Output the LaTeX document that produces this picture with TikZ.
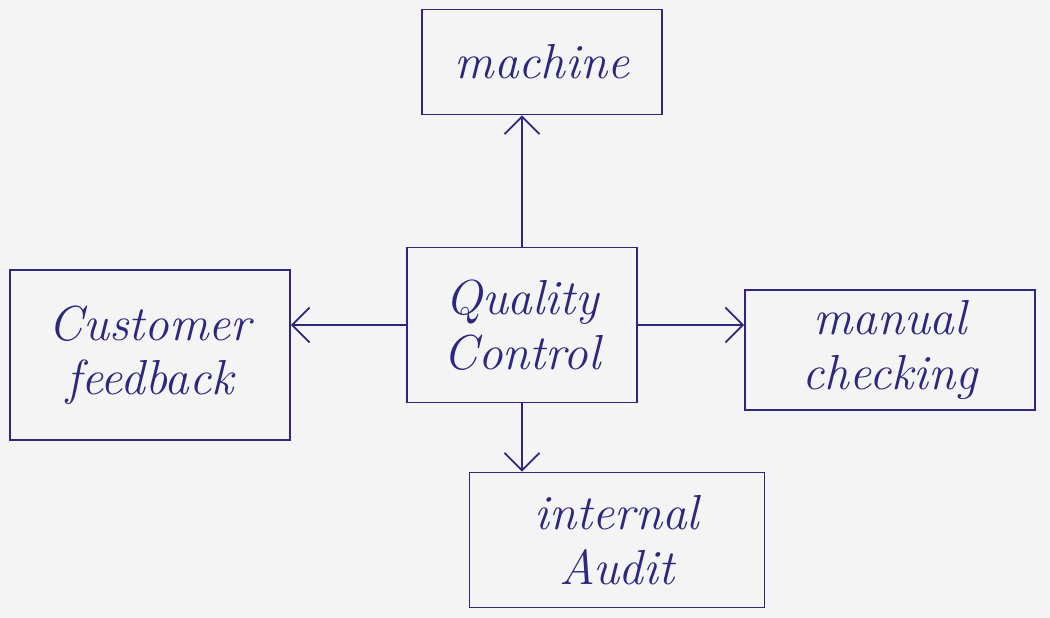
\documentclass[tikz,border=0pt]{standalone}
\usepackage{xcolor}
\usepackage{tikz}
\usetikzlibrary{arrows.meta,calc,positioning}
\definecolor{ink}{RGB}{45,40,125}
\definecolor{paper}{RGB}{244,244,244}

\begin{document}
\begin{tikzpicture}[
  box/.style={draw=ink,line width=1pt,text=ink,align=center,font=\fontsize{28}{31}\selectfont\itshape},
  arr/.style={draw=ink,line width=1pt,-{Straight Barb[length=3.5mm,width=7mm]}}
]
\fill[paper] (0,0) rectangle (21,12.36);
\useasboundingbox (0,0) rectangle (21,12.36);
\node[box,minimum width=4.6cm,minimum height=3.1cm] (qc) at (10.44,5.86) {Quality\\Control};
\node[box,minimum width=4.8cm,minimum height=2.1cm] (machine) at (10.84,11.12) {machine};
\node[box,minimum width=5.6cm,minimum height=3.4cm] (cust) at (3.0,5.26) {Customer\\feedback};
\node[box,minimum width=5.8cm,minimum height=2.4cm] (manual) at (17.8,5.36) {manual\\checking};
\node[box,minimum width=5.9cm,minimum height=2.7cm] (audit) at (12.34,1.56) {internal\\Audit};
\draw[arr] (qc.north) -- (qc.north |- machine.south);
\draw[arr] (qc.west) -- (qc.west -| cust.east);
\draw[arr] (qc.east) -- (qc.east -| manual.west);
\draw[arr] (qc.south) -- (qc.south |- audit.north);
\end{tikzpicture}
\end{document}
